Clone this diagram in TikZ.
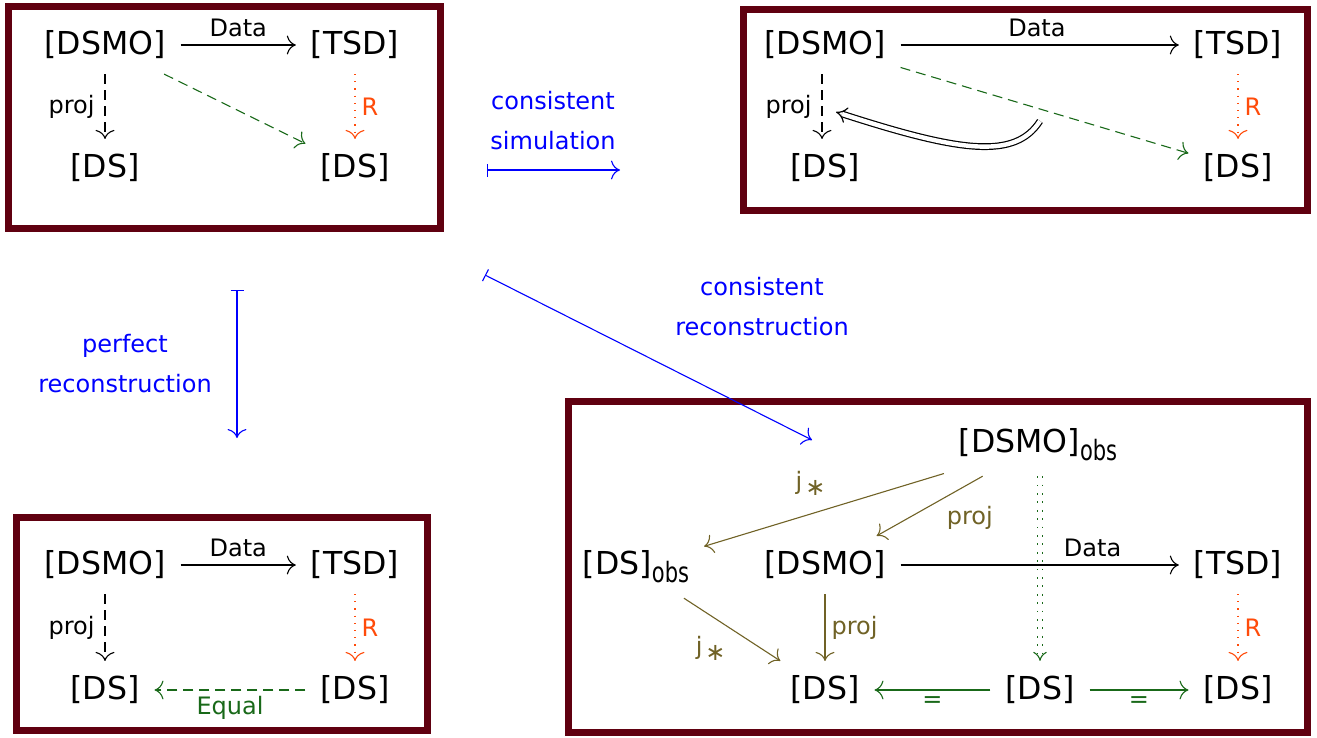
\documentclass[tikz,border=0pt]{standalone}
\usepackage{fontspec}
\setmainfont{DejaVu Sans}
\usetikzlibrary{arrows.meta}
\definecolor{frameRed}{RGB}{96,0,16}
\definecolor{dgreen}{RGB}{25,105,25}
\definecolor{orng}{RGB}{255,75,10}
\definecolor{olivec}{RGB}{112,98,38}
\definecolor{blu}{RGB}{0,0,255}
\newcommand{\obsub}{\raisebox{-4pt}{\fontsize{14}{14}\selectfont\scalebox{0.75}[1]{obs}}}
\newcommand{\jstar}{j\kern1.5pt\raisebox{-3pt}{∗}}
\begin{document}
\begin{tikzpicture}[x=0.5pt,y=-0.5pt,
  >={To[scale=1.6]},
  big/.style={font=\fontsize{15.8}{18}\selectfont, inner sep=1pt, outer sep=6.5pt},
  lab/.style={font=\fontsize{12}{14}\selectfont, inner sep=2pt},
  frm/.style={draw=frameRed, line width=3.5pt},
  ar/.style={->, line width=0.55pt},
  dsh/.style={dash pattern=on 5pt off 3pt},
  dtt/.style={dash pattern=on 0.6pt off 3pt},
  bl/.style={{Bar[width=6.5pt]}->, line width=0.55pt, blu},
  bllab/.style={font=\fontsize{12}{20}\selectfont, text=blu, align=center}]
\useasboundingbox (0,0) rectangle (1317,738);
% frames
\draw[frm] (8.5,6.5) rectangle (440.5,228.5);
\draw[frm] (743.5,9.5) rectangle (1307.5,210.5);
\draw[frm] (16,517.5) rectangle (427.5,730);
\draw[frm] (568.5,401.5) rectangle (1307.5,732.5);

% ---------- box 1 ----------
\node[big] (a1) at (105,45) {[DSMO]};
\node[big] (b1) at (355,45) {[TSD]};
\node[big] (c1) at (105,168) {[DS]};
\node[big] (d1) at (355,168) {[DS]};
\draw[ar] (a1) -- node[lab, above=2pt] {Data} (b1);
\draw[ar, dsh] (a1) -- node[lab, left=3pt] {proj} (c1);
\draw[ar, dtt, orng] (b1) -- node[lab, right=1pt] {R} (d1);
\draw[ar, dsh, dgreen] (a1) -- (d1);

% ---------- box 2 ----------
\node[big] (a2) at (825,45) {[DSMO]};
\node[big] (b2) at (1238,45) {[TSD]};
\node[big] (c2) at (825,168) {[DS]};
\node[big] (d2) at (1238,168) {[DS]};
\draw[ar] (a2) -- node[lab, above=2pt, pos=0.49] {Data} (b2);
\draw[ar, dsh] (a2.south -| 822,0) -- node[lab, left=3pt] {proj} (c2.north -| 822,0);
\draw[ar, dtt, orng] (b2) -- node[lab, right=1pt] {R} (d2);
\draw[ar, dsh, dgreen] (a2) -- (d2);
\coordinate (w1) at (1040,121);
\coordinate (w2) at (836,112);
\draw[double, double distance=2.2pt, line width=0.6pt, -{Implies[scale=1.5]}] (w1) .. controls (1015,160) and (960,152) .. (w2);

% ---------- box 3 ----------
\node[big] (a3) at (105,565) {[DSMO]};
\node[big] (b3) at (355,565) {[TSD]};
\node[big] (c3) at (105,690) {[DS]};
\node[big] (d3) at (355,690) {[DS]};
\draw[ar] (a3) -- node[lab, above=2pt] {Data} (b3);
\draw[ar, dsh] (a3) -- node[lab, left=3pt] {proj} (c3);
\draw[ar, dtt, orng] (b3) -- node[lab, right=1pt] {R} (d3);
\draw[ar, dsh, dgreen] (d3) -- node[lab, below=1pt, text=dgreen] {Equal} (c3);

% ---------- box 4 ----------
\node[big] (o4) at (1038,445) {[DSMO]\obsub};
\node[big] (s4) at (636,567) {[DS]\obsub};
\node[big] (a4) at (825,565) {[DSMO]};
\node[big] (b4) at (1238,565) {[TSD]};
\node[big] (c4) at (825,690) {[DS]};
\node[big] (m4) at (1040,690) {[DS]};
\node[big] (d4) at (1238,690) {[DS]};
\draw[ar, olivec] (o4) -- node[lab, above left=3pt, pos=0.45, text=olivec] {\jstar} (s4);
\draw[ar, olivec] (o4) -- node[lab, below right=1pt, pos=0.4, text=olivec] {proj} (a4);
\draw[ar, olivec] (s4) -- node[lab, below left=1pt, pos=0.5, text=olivec] {\jstar} (c4);
\draw[ar, olivec] (a4) -- node[lab, right=1pt, text=olivec] {proj} (c4);
\draw[ar] (a4) -- node[lab, above=2pt, pos=0.69] {Data} (b4);
\draw[ar, dtt, orng] (b4) -- node[lab, right=1pt] {R} (d4);
\draw[dgreen, double, double distance=1.8pt, line width=0.55pt, dash pattern=on 0.9pt off 3.3pt, -{Implies[scale=1.2]}] (o4.south -| m4) -- (m4);
\draw[ar, dgreen] (m4) -- node[lab, below=1pt, text=dgreen] {=} (c4);
\draw[ar, dgreen] (m4) -- node[lab, below=1pt, text=dgreen] {=} (d4);

% ---------- blue transitions ----------
\coordinate (s1) at (487,170);
\coordinate (s2) at (620,170);
\draw[bl] (s1) -- (s2);
\node[bllab] (t1) at (553,121) {consistent\\simulation};
\coordinate (p1) at (237,290);
\coordinate (p2) at (237,438);
\draw[bl] (p1) -- (p2);
\node[bllab] (t2) at (125,364) {perfect\\reconstruction};
\coordinate (r1) at (485,275);
\coordinate (r2) at (812,440);
\draw[bl] (r1) -- (r2);
\node[bllab] (t3) at (762,307) {consistent\\reconstruction};
\end{tikzpicture}
\end{document}
